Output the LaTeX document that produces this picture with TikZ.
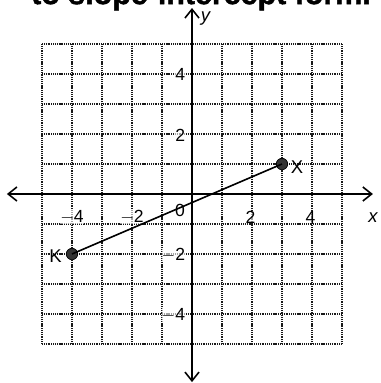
\documentclass[tikz,border=0pt]{standalone}
\usepackage{fontspec}
\setmainfont{Liberation Sans}
\newfontfamily\titlefont[FakeBold=1.3]{Liberation Sans}
\usetikzlibrary{arrows.meta}
\begin{document}
\begin{tikzpicture}[x=0.6cm,y=0.6cm,
  gridline/.style={line width=0.9pt,dash pattern=on 0.6pt off 0.45pt,black!90},
  axisline/.style={line width=0.9pt,{Straight Barb[length=5pt,width=8pt]}-{Straight Barb[length=5pt,width=8pt]}},
  ticklbl/.style={font=\fontsize{10}{12}\selectfont,inner sep=0pt,fill=white,fill opacity=0.6,text opacity=1},
  ptdot/.style={circle,fill=black!80,draw=black,inner sep=0pt,minimum size=6.5pt},
  ptlbl/.style={font=\fontsize{10.5}{12}\selectfont,inner sep=0pt}]
\clip (-6.4,-6.3) rectangle (6.267,6.467);
\fill[white] (-6.4,-6.3) rectangle (6.267,6.467);
% title, cut at top
\node[anchor=base,inner sep=0pt,font=\titlefont\fontsize{17.3}{20}\bfseries\selectfont] (title) at (0.3,6.33) {to slope-intercept form.};
% grid
\foreach \i in {-5,...,5} {
  \draw[gridline] (\i,-5) -- (\i,5);
  \draw[gridline] (-5,\i) -- (5,\i);
}
% axes
\coordinate (xl) at (-6.17,0);
\coordinate (xr) at (6.03,0);
\coordinate (yt) at (0,6.2);
\coordinate (yb) at (0,-6.27);
\draw[axisline] (xl) -- (xr);
\draw[axisline] (yb) -- (yt);
\node[inner sep=0pt,font=\fontsize{10.5}{12}\itshape\selectfont] (xlab) at (6.03,-0.8) {x};
\node[inner sep=0pt,font=\fontsize{10.5}{12}\itshape\selectfont] (ylab) at (0.45,5.85) {y};
% tick labels
\node[ticklbl] (tm4) at (-4,-0.77) {$-$4};
\node[ticklbl] (tm2) at (-2,-0.77) {$-$2};
\node[ticklbl] (t2) at (1.95,-0.77) {2};
\node[ticklbl] (t4) at (3.95,-0.77) {4};
\node[ticklbl] (t0) at (-0.4,-0.55) {0};
\node[ticklbl,anchor=east] (y4) at (-0.22,4) {4};
\node[ticklbl,anchor=east] (y2) at (-0.22,1.95) {2};
\node[ticklbl,anchor=east] (ym2) at (-0.22,-2.05) {$-$2};
\node[ticklbl,anchor=east] (ym4) at (-0.22,-4.03) {$-$4};
% segment
\node[ptdot] (K) at (-4,-2) {};
\node[ptdot] (X) at (3,1) {};
\draw[line width=0.9pt] (K.center) -- (X.center);
\node[ptlbl] (Xl) at (3.5,0.88) {X};
\node[ptlbl] (Kl) at (-4.55,-2.08) {K};
\end{tikzpicture}
\end{document}
